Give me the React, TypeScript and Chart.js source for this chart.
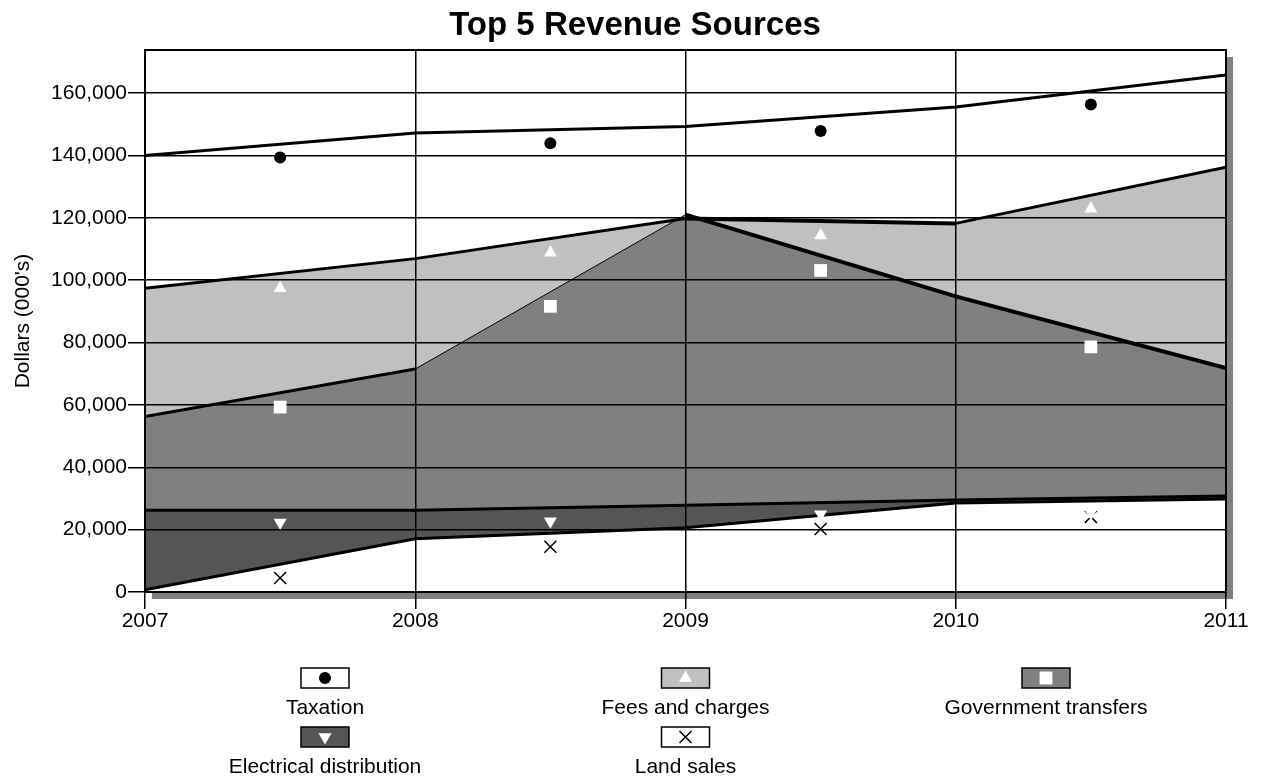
import React, { useEffect, useRef } from "react";
import { Chart, registerables } from "chart.js";
Chart.register(...registerables);

const title = "Top 5 Revenue Sources";
const yAxisTitle = "Dollars (000's)";
const years = [2007, 2008, 2009, 2010, 2011];
const markerYears = [2007.5, 2008.5, 2009.5, 2010.5];
const yTickValues = [0, 20000, 40000, 60000, 80000, 100000, 120000, 140000, 160000];

const taxation = [140000, 147200, 149300, 155500, 165800];
const fees = [97400, 106900, 119800, 118200, 136200];
const government = [56300, 71500, 121000, 94800, 71800];
const electrical = [26200, 26200, 27800, 29500, 30800];
const land = [700, 17100, 20600, 28500, 29800];

const taxationMarkers = [139300, 143900, 147800, 156300];
const feesMarkers = [97400, 108800, 114300, 122900];
const governmentMarkers = [59300, 91600, 103100, 78600];
const electricalMarkers = [22300, 22700, 24900, 25300];
const landMarkers = [4500, 14500, 20200, 24100];

const seriesNames = ["Taxation", "Fees and charges", "Government transfers", "Electrical distribution", "Land sales"];
const fillColors = ["#ffffff", "#c0c0c0", "#808080", "#555555", "#ffffff"];
const markerStyles = ["circle", "triangle", "rect", "triangleDown", "crossRot"];
const markerColors = ["#000000", "#ffffff", "#ffffff", "#ffffff", "#000000"];
const govSegmentWidths = [3, 1, 4, 4];
const feesSegmentWidths = [3, 3, 4, 3];

const FONT = "'Liberation Sans', Arial, sans-serif";

const toXY = (xs: number[], ys: number[]) => ys.map((y, i) => ({ x: xs[i], y }));

function drawMarker(ctx: CanvasRenderingContext2D, style: string, x: number, y: number, color: string) {
  ctx.save();
  ctx.fillStyle = color;
  ctx.strokeStyle = color;
  ctx.beginPath();
  if (style === "circle") {
    ctx.arc(x, y, 6, 0, Math.PI * 2);
    ctx.fill();
  } else if (style === "triangle" || style === "triangleDown") {
    const r = 7.5;
    const s = style === "triangle" ? 1 : -1;
    ctx.moveTo(x, y - s * r);
    ctx.lineTo(x + r * Math.sin((2 * Math.PI) / 3), y + s * r * 0.5);
    ctx.lineTo(x - r * Math.sin((2 * Math.PI) / 3), y + s * r * 0.5);
    ctx.closePath();
    ctx.fill();
  } else if (style === "rect") {
    ctx.rect(x - 6.4, y - 6.4, 12.8, 12.8);
    ctx.fill();
  } else if (style === "crossRot") {
    const h = 6;
    ctx.lineWidth = 1.5;
    ctx.moveTo(x - h, y - h);
    ctx.lineTo(x + h, y + h);
    ctx.moveTo(x + h, y - h);
    ctx.lineTo(x - h, y + h);
    ctx.stroke();
  }
  ctx.restore();
}

const decorPlugin = {
  id: "decor",
  beforeDraw(chart: any) {
    const { ctx, chartArea: a } = chart;
    ctx.save();
    ctx.fillStyle = "#808080";
    ctx.fillRect(a.right, a.top + 7, 7, a.bottom - a.top);
    ctx.fillRect(a.left + 7, a.bottom, a.right - a.left, 7);
    ctx.restore();
  },
  afterDraw(chart: any) {
    const { ctx, chartArea: a } = chart;
    ctx.save();
    ctx.strokeStyle = "#000";
    ctx.lineWidth = 2;
    ctx.strokeRect(a.left, a.top, a.right - a.left, a.bottom - a.top);
    // title
    ctx.fillStyle = "#000";
    ctx.font = `bold 33px ${FONT}`;
    ctx.textAlign = "center";
    ctx.textBaseline = "alphabetic";
    ctx.fillText(title, 635, 35);
    // legend
    const centers = [325, 685.5, 1046];
    const rows = [668, 727];
    ctx.font = `21px ${FONT}`;
    seriesNames.forEach((name, i) => {
      const cx = centers[i % 3];
      const top = rows[Math.floor(i / 3)];
      ctx.fillStyle = fillColors[i];
      ctx.fillRect(cx - 24, top, 48, 20);
      ctx.strokeStyle = "#000";
      ctx.lineWidth = 1.5;
      ctx.strokeRect(cx - 24, top, 48, 20);
      drawMarker(ctx, markerStyles[i], cx, top + 10, markerColors[i]);
      ctx.fillStyle = "#000";
      ctx.textAlign = "center";
      ctx.textBaseline = "middle";
      ctx.fillText(name, cx, top + 40);
    });
    ctx.restore();
  },
};

export default function App() {
  const ref = useRef<HTMLCanvasElement | null>(null);
  useEffect(() => {
    document.body.style.margin = "0";
    const canvas = ref.current!;
    const lineDs = (label: string, vals: number[], color: string, order: number, fill: boolean, widths?: number[]) => ({
      type: "line" as const,
      label,
      data: toXY(years, vals),
      borderColor: "#000",
      borderWidth: 3,
      backgroundColor: color,
      fill: fill ? "origin" : false,
      pointRadius: 0,
      tension: 0,
      order,
      segment: widths ? { borderWidth: (c: any) => widths[c.p0DataIndex] } : undefined,
    });
    const markerDs = (label: string, vals: number[], style: string, color: string, radius: number, extra: any = {}) => ({
      type: "scatter" as const,
      label,
      data: toXY(markerYears, vals),
      pointStyle: style,
      pointRadius: radius,
      pointBackgroundColor: color,
      pointBorderColor: color,
      pointBorderWidth: 0,
      showLine: false,
      order: 0,
      ...extra,
    });
    const chart = new Chart(canvas, {
      type: "line",
      data: {
        datasets: [
          markerDs("Taxation markers", taxationMarkers, "circle", "#000", 6),
          markerDs("Fees markers", feesMarkers, "triangle", "#fff", 7.5),
          markerDs("Government markers", governmentMarkers, "rect", "#fff", 9),
          markerDs("Electrical markers", electricalMarkers, "triangle", "#fff", 7.5, { pointRotation: 180 }),
          markerDs("Land markers", landMarkers, "crossRot", "#000", 8.5, { pointBorderWidth: 1.5 }),
          lineDs(seriesNames[4], land, fillColors[4], 1, true),
          lineDs(seriesNames[3], electrical, fillColors[3], 2, true),
          lineDs(seriesNames[2], government, fillColors[2], 3, true, govSegmentWidths),
          lineDs(seriesNames[1], fees, fillColors[1], 4, true, feesSegmentWidths),
          lineDs(seriesNames[0], taxation, fillColors[0], 5, false),
        ] as any,
      },
      options: {
        responsive: false,
        animation: false,
        devicePixelRatio: 1,
        layout: { padding: { top: 50, right: 36, left: 0, bottom: 0 } },
        plugins: {
          legend: { display: false },
          tooltip: { enabled: false },
          title: { display: false },
          filler: { drawTime: "beforeDraw" },
        } as any,
        scales: {
          x: {
            type: "linear",
            min: 2007,
            max: 2011,
            afterFit: (s: any) => { s.height = 187; },
            ticks: {
              stepSize: 1,
              callback: (v: any) => String(v),
              color: "#000",
              font: { family: FONT, size: 21 },
              padding: 0,
              maxRotation: 0,
            },
            grid: { color: "#000", lineWidth: 1.5, tickLength: 17, tickColor: "#000" },
            border: { display: false },
          },
          y: {
            type: "linear",
            min: 0,
            max: 173800,
            afterFit: (s: any) => { s.width = 145; },
            afterBuildTicks: (s: any) => { s.ticks = yTickValues.map((v) => ({ value: v })); },
            ticks: {
              callback: (v: any) => Number(v).toLocaleString("en-US"),
              color: "#000",
              font: { family: FONT, size: 21 },
              padding: 1,
            },
            grid: { color: "#000", lineWidth: 1.5, tickLength: 17, tickColor: "#000" },
            border: { display: false },
            title: {
              display: true,
              text: yAxisTitle,
              color: "#000",
              font: { family: FONT, size: 21 },
              padding: { top: 11, bottom: 0 },
            },
          },
        } as any,
      },
      plugins: [decorPlugin],
    });
    return () => chart.destroy();
  }, []);
  return (
    <div style={{ width: 1262, height: 779 }}>
      <canvas ref={ref} width={1262} height={779} style={{ display: "block" }} />
    </div>
  );
}
